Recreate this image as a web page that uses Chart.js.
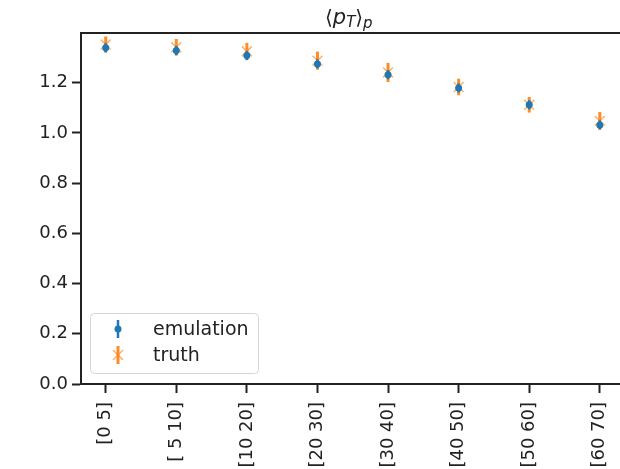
<!DOCTYPE html>
<html>
<head>
<meta charset="utf-8">
<script src="https://cdn.jsdelivr.net/npm/chart.js@4.4.0/dist/chart.umd.min.js"></script>
<style>
    html, body { margin: 0; padding: 0; background: #fff; overflow: hidden; }
    #contenedor { width: 633px; height: 469px; position: relative; }
</style>
</head>
<body>
<div id="contenedor"><canvas id="grafico"></canvas></div>
<script>
// Datos
const categorias = ['[0 5]', '[ 5 10]', '[10 20]', '[20 30]', '[30 40]', '[40 50]', '[50 60]', '[60 70]'];
const emulacion = [1.339, 1.328, 1.308, 1.275, 1.232, 1.179, 1.112, 1.032];
const errEmulacion = [0.018, 0.018, 0.018, 0.018, 0.018, 0.018, 0.018, 0.018];
const verdad = [1.352, 1.341, 1.325, 1.288, 1.241, 1.183, 1.112, 1.048];
const errVerdad = [0.032, 0.033, 0.034, 0.036, 0.038, 0.033, 0.031, 0.035];
const ticksY = [0, 0.2, 0.4, 0.6, 0.8, 1.0, 1.2];
const etiquetas = ['emulation', 'truth'];

const AZUL = '#1f77b4';
const NARANJA = '#ff7f0e';
const TINTA = '#222222';
const FUENTE = "'DejaVu Sans', sans-serif";

// Barras de error, dibujadas antes de los puntos de cada serie
const barrasError = {
    id: 'barrasError',
    beforeDatasetDraw(chart, args) {
        const ctx = chart.ctx;
        const x = chart.scales.x;
        const y = chart.scales.y;
        const valores = args.index === 0 ? emulacion : verdad;
        const errores = args.index === 0 ? errEmulacion : errVerdad;
        ctx.save();
        ctx.strokeStyle = args.index === 0 ? AZUL : 'rgba(255,127,14,0.9)';
        ctx.lineWidth = args.index === 0 ? 2.5 : 3;
        valores.forEach((v, i) => {
            const px = x.getPixelForValue(i);
            ctx.beginPath();
            ctx.moveTo(px, y.getPixelForValue(v - errores[i]));
            ctx.lineTo(px, y.getPixelForValue(v + errores[i]));
            ctx.stroke();
        });
        ctx.restore();
    }
};

// Marco superior, título y leyenda
const decoracion = {
    id: 'decoracion',
    afterDraw(chart) {
        const ctx = chart.ctx;
        const area = chart.chartArea;
        ctx.save();
        ctx.strokeStyle = TINTA;
        ctx.lineWidth = 2;
        ctx.beginPath();
        ctx.moveTo(area.left - 1, area.top);
        ctx.lineTo(area.right + 2, area.top);
        ctx.stroke();

        // Título ⟨p_T⟩_p
        ctx.fillStyle = TINTA;
        ctx.textBaseline = 'alphabetic';
        ctx.textAlign = 'left';
        let cx = 325;
        const base = 24;
        ctx.font = '20px ' + FUENTE;
        ctx.fillText('⟨', cx, base); cx += ctx.measureText('⟨').width;
        ctx.font = 'italic 21px ' + FUENTE;
        ctx.fillText('p', cx, base); cx += ctx.measureText('p').width;
        ctx.font = 'italic 15px ' + FUENTE;
        ctx.fillText('T', cx, base + 3); cx += ctx.measureText('T').width;
        ctx.font = '20px ' + FUENTE;
        ctx.fillText('⟩', cx, base); cx += ctx.measureText('⟩').width;
        ctx.font = 'italic 15px ' + FUENTE;
        ctx.fillText('p', cx, base + 4);

        // Leyenda
        const lx = 90, ly = 313, lw = 168, lh = 60;
        ctx.beginPath();
        ctx.roundRect(lx + 0.5, ly + 0.5, lw, lh, 4);
        ctx.fillStyle = 'rgba(255,255,255,0.8)';
        ctx.fill();
        ctx.strokeStyle = '#d6d6d6';
        ctx.lineWidth = 1;
        ctx.stroke();

        const mx = 118;
        const filas = [329, 355];
        // emulation
        ctx.strokeStyle = AZUL;
        ctx.lineWidth = 2.5;
        ctx.beginPath();
        ctx.moveTo(mx, filas[0] - 9);
        ctx.lineTo(mx, filas[0] + 9);
        ctx.stroke();
        ctx.fillStyle = AZUL;
        ctx.beginPath();
        ctx.arc(mx, filas[0], 3.5, 0, Math.PI * 2);
        ctx.fill();
        // truth
        ctx.strokeStyle = 'rgba(255,127,14,0.9)';
        ctx.lineWidth = 3;
        ctx.beginPath();
        ctx.moveTo(mx, filas[1] - 9);
        ctx.lineTo(mx, filas[1] + 9);
        ctx.stroke();
        ctx.strokeStyle = 'rgba(255,127,14,0.6)';
        ctx.lineWidth = 1.5;
        ctx.beginPath();
        ctx.moveTo(mx - 5, filas[1] - 5); ctx.lineTo(mx + 5, filas[1] + 5);
        ctx.moveTo(mx - 5, filas[1] + 5); ctx.lineTo(mx + 5, filas[1] - 5);
        ctx.stroke();

        ctx.fillStyle = TINTA;
        ctx.font = '19px ' + FUENTE;
        ctx.textBaseline = 'middle';
        etiquetas.forEach((t, i) => ctx.fillText(t, 153, filas[i] + 1));
        ctx.restore();
    }
};

new Chart(document.getElementById('grafico').getContext('2d'), {
    type: 'scatter',
    data: {
        datasets: [{
            label: etiquetas[0],
            data: emulacion.map((v, i) => ({ x: i, y: v })),
            pointStyle: 'circle',
            pointRadius: 3.5,
            backgroundColor: AZUL,
            borderWidth: 0
        }, {
            label: etiquetas[1],
            data: verdad.map((v, i) => ({ x: i, y: v })),
            pointStyle: 'crossRot',
            pointRadius: 7,
            borderColor: 'rgba(255,127,14,0.6)',
            borderWidth: 1.5
        }]
    },
    options: {
        responsive: true,
        maintainAspectRatio: false,
        animation: false,
        events: [],
        layout: { padding: { top: 33, right: 1, left: 0, bottom: 0 } },
        plugins: {
            legend: { display: false },
            tooltip: { enabled: false }
        },
        scales: {
            x: {
                type: 'linear',
                min: -0.35,
                max: 7.35,
                afterFit: (s) => { s.height = 85; },
                afterBuildTicks: (s) => { s.ticks = categorias.map((_, i) => ({ value: i })); },
                ticks: {
                    autoSkip: false,
                    minRotation: 90,
                    maxRotation: 90,
                    padding: 9,
                    color: TINTA,
                    font: { family: FUENTE, size: 18 },
                    callback: (v) => categorias[v]
                },
                grid: { drawOnChartArea: false, drawTicks: true, tickLength: 9, tickWidth: 2, color: TINTA },
                border: { display: true, width: 2, color: TINTA }
            },
            y: {
                min: 0,
                max: 1.398,
                afterFit: (s) => { s.width = 81; },
                afterBuildTicks: (s) => { s.ticks = ticksY.map(v => ({ value: v })); },
                ticks: {
                    padding: 4,
                    color: TINTA,
                    font: { family: FUENTE, size: 18 },
                    callback: (v) => v.toFixed(1)
                },
                grid: { drawOnChartArea: false, drawTicks: true, tickLength: 9, tickWidth: 2, color: TINTA },
                border: { display: true, width: 2, color: TINTA }
            }
        }
    },
    plugins: [barrasError, decoracion]
});
</script>
</body>
</html>
